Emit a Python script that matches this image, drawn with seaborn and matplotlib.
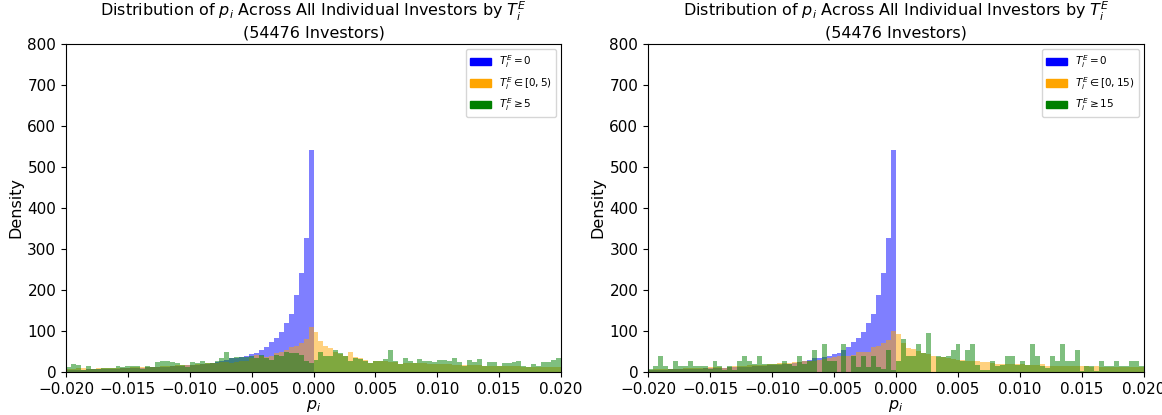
import numpy as np
import pandas as pd
import matplotlib
matplotlib.use("Agg")
import matplotlib.pyplot as plt
from matplotlib.patches import Patch
import seaborn as sns

# Histogram bins over p_i in [-0.02, 0.02]
x_range = (-0.02, 0.02)
n_bins = 100
bin_edges = np.linspace(x_range[0], x_range[1], n_bins + 1)
bin_centers = (bin_edges[:-1] + bin_edges[1:]) / 2

# Density of p_i for investors with T_i^E = 0 (same group in both panels)
density_zero = [
    6, 6, 6, 6, 7, 7, 7, 7, 8, 8,
    8, 9, 9, 9, 10, 10, 11, 11, 12, 12,
    13, 14, 14, 15, 16, 17, 18, 19, 20, 22,
    24, 26, 29, 33, 35, 37, 40, 43, 47, 53,
    62, 72, 84, 98, 120, 142, 187, 241, 327, 542,
    0, 0, 0, 0, 0, 0, 0, 0, 0, 0,
    0, 0, 0, 0, 0, 0, 0, 0, 0, 0,
    0, 0, 0, 0, 0, 0, 0, 0, 0, 0,
    0, 0, 0, 0, 0, 0, 0, 0, 0, 0,
    0, 0, 0, 0, 0, 0, 0, 0, 0, 0,
]

# Left panel: threshold 5
density_mid_5 = [
    8, 8, 9, 10, 8, 8, 9, 9, 9, 10,
    10, 10, 10, 11, 11, 11, 12, 12, 13, 14,
    14, 15, 16, 16, 17, 18, 19, 20, 21, 22,
    23, 24, 25, 22, 24, 28, 28, 34, 42, 38,
    37, 40, 46, 48, 54, 61, 64, 71, 80, 109,
    97, 76, 63, 58, 50, 45, 40, 48, 37, 34,
    30, 22, 28, 26, 26, 25, 24, 20, 23, 22,
    22, 21, 21, 20, 20, 20, 19, 19, 18, 18,
    17, 17, 16, 16, 15, 15, 15, 15, 14, 14,
    14, 14, 13, 13, 13, 13, 12, 12, 12, 12,
]
density_high_5 = [
    11, 20, 18, 4, 15, 8, 8, 9, 10, 10,
    15, 11, 14, 14, 14, 8, 14, 11, 25, 26,
    26, 25, 22, 17, 12, 25, 22, 27, 22, 22,
    28, 34, 49, 34, 37, 36, 37, 38, 34, 42,
    34, 30, 42, 38, 50, 46, 46, 42, 26, 22,
    30, 49, 40, 40, 53, 46, 40, 26, 34, 32,
    28, 22, 28, 28, 32, 53, 26, 20, 34, 26,
    22, 32, 28, 28, 25, 30, 30, 28, 34, 24,
    15, 30, 25, 32, 15, 24, 24, 14, 22, 22,
    24, 28, 14, 12, 20, 15, 24, 24, 30, 34,
]

# Right panel: threshold 15
density_mid_15 = [
    6, 8, 8, 7, 8, 8, 8, 9, 9, 9,
    10, 10, 12, 11, 11, 10, 12, 14, 14, 15,
    16, 17, 17, 18, 19, 20, 21, 22, 23, 24,
    24, 26, 27, 28, 30, 32, 33, 36, 38, 38,
    38, 42, 50, 48, 48, 61, 64, 71, 79, 101,
    92, 71, 58, 56, 52, 46, 45, 38, 37, 37,
    34, 32, 30, 30, 28, 28, 26, 24, 24, 22,
    20, 20, 20, 20, 19, 19, 18, 18, 18, 20,
    15, 15, 15, 15, 15, 14, 14, 14, 14, 13,
    14, 13, 12, 12, 12, 12, 12, 12, 11, 11,
]
density_high_15 = [
    8, 14, 40, 14, 8, 28, 14, 14, 28, 14,
    14, 14, 8, 28, 14, 6, 14, 4, 28, 40,
    28, 20, 40, 20, 20, 20, 20, 28, 20, 14,
    40, 20, 28, 54, 0, 69, 28, 28, 0, 69,
    0, 40, 11, 40, 11, 40, 11, 8, 54, 6,
    28, 80, 40, 40, 69, 46, 95, 0, 40, 37,
    38, 54, 68, 28, 54, 68, 18, 6, 6, 28,
    14, 18, 40, 40, 18, 28, 18, 68, 40, 14,
    10, 40, 28, 68, 28, 28, 54, 3, 14, 14,
    3, 28, 15, 15, 28, 15, 15, 28, 28, 14,
]

n_investors = 54476
thresholds = [5, 15]
panels = [
    (density_zero, density_mid_5, density_high_5),
    (density_zero, density_mid_15, density_high_15),
]
colors = ["blue", "orange", "green"]

fig = plt.figure(figsize=(11.62, 4.15), dpi=100)
axes = [
    fig.add_axes([0.0568, 0.1036, 0.4260, 0.7904]),
    fig.add_axes([0.5577, 0.1036, 0.4268, 0.7904]),
]

for ax, thr, series in zip(axes, thresholds, panels):
    for values, color in zip(series, colors):
        df = pd.DataFrame({"p": bin_centers, "density": values})
        sns.histplot(data=df, x="p", weights="density",
                     binwidth=(x_range[1] - x_range[0]) / n_bins,
                     binrange=x_range, stat="count", color=color,
                     alpha=0.5, linewidth=0, edgecolor="none", ax=ax)
    ax.set_xlim(*x_range)
    ax.set_ylim(0, 800)
    ax.set_xticks(np.linspace(-0.02, 0.02, 9))
    ax.set_yticks(range(0, 801, 100))
    ax.tick_params(labelsize=11)
    ax.set_xlabel("$p_i$", fontsize=11.5, labelpad=1)
    ax.set_ylabel("Density", fontsize=11.5, labelpad=3)
    ax.set_title("Distribution of $p_i$ Across All Individual Investors by $T_i^E$\n"
                 f"({n_investors} Investors)", fontsize=11.5, pad=5)
    labels = ["$T_i^E = 0$", f"$T_i^E \\in [0, {thr})$", f"$T_i^E \\geq {thr}$"]
    handles = [Patch(facecolor=c, edgecolor=c) for c in colors]
    ax.legend(handles, labels, loc="upper right", fontsize=7.5,
              labelspacing=0.45, handlelength=2.0)

fig.savefig("out.png", dpi=100)
